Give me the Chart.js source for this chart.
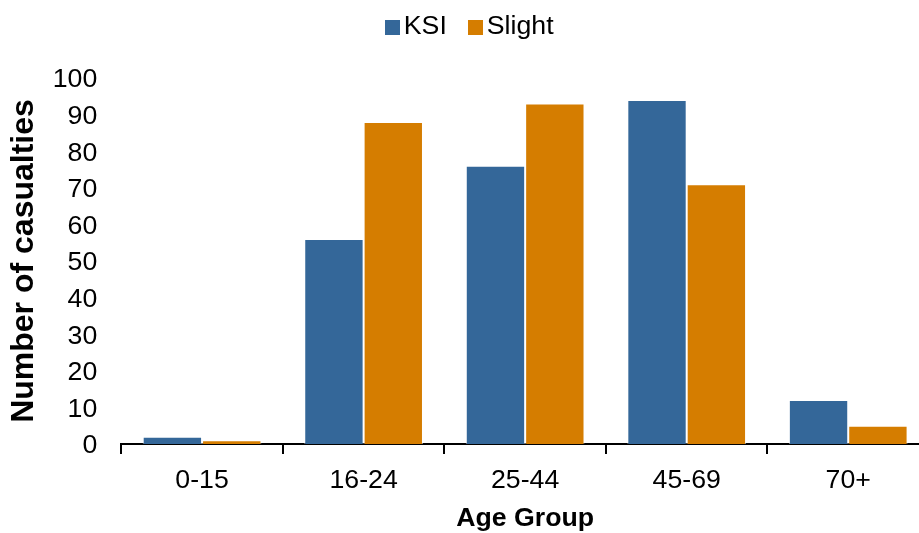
<!DOCTYPE html>
<html>
<head>
<meta charset="utf-8">
<script src="https://cdn.jsdelivr.net/npm/chart.js@4/dist/chart.umd.min.js"></script>
<style>
  html, body { margin: 0; padding: 0; background: #fff; overflow: hidden; }
  #wrap { width: 919px; height: 533px; overflow: hidden; }
  canvas { display: block; }
</style>
</head>
<body>
<div id="wrap"><canvas id="chart" width="930" height="533"></canvas></div>
<script>
// Casualties by age group, split by severity
const ageGroups = ['0-15', '16-24', '25-44', '45-69', '70+'];
const ksiCasualties = [2, 56, 76, 94, 12];
const slightCasualties = [1, 88, 93, 71, 5];
const yTickValues = [0, 10, 20, 30, 40, 50, 60, 70, 80, 90, 100];

const BLUE = '#346799';
const ORANGE = '#d57d00';
const FONT = 'Liberation Sans, Arial, sans-serif';
const BASE_SIZE = 26.7;

// Square legend marker drawn on a small canvas, offset so the label sits close to it
function legendSwatch(color) {
  const c = document.createElement('canvas');
  c.width = 34; c.height = 15;
  const g = c.getContext('2d');
  g.fillStyle = color;
  g.fillRect(19, 0, 15, 15);
  return c;
}
const swatches = [legendSwatch(BLUE), legendSwatch(ORANGE)];

// Extra room below the legend so the plot starts lower
const legendSpacer = {
  id: 'legendSpacer',
  beforeInit(chart) {
    const fit = chart.legend.fit;
    chart.legend.fit = function () {
      fit.call(this);
      this.height += 27.65;
    };
  }
};

new Chart(document.getElementById('chart'), {
  type: 'bar',
  data: {
    labels: ageGroups,
    datasets: [
      {
        label: 'KSI',
        data: ksiCasualties,
        backgroundColor: BLUE,
        borderColor: 'rgba(255,255,255,0.55)',
        borderWidth: 1,
        categoryPercentage: 0.735,
        barPercentage: 1.0
      },
      {
        label: 'Slight',
        data: slightCasualties,
        backgroundColor: ORANGE,
        borderColor: 'rgba(255,255,255,0.55)',
        borderWidth: 1,
        categoryPercentage: 0.735,
        barPercentage: 1.0
      }
    ]
  },
  options: {
    responsive: false,
    animation: false,
    layout: { padding: { top: 2, right: 1, bottom: 0, left: 0 } },
    plugins: {
      tooltip: { enabled: false },
      legend: {
        position: 'top',
        labels: {
          usePointStyle: true,
          pointStyleWidth: 15,
          boxHeight: 15,
          padding: 11.65,
          color: '#000',
          font: { family: FONT, size: BASE_SIZE },
          generateLabels(chart) {
            const items = Chart.defaults.plugins.legend.labels.generateLabels(chart);
            items.forEach(it => { it.pointStyle = swatches[it.datasetIndex]; });
            return items;
          }
        }
      }
    },
    scales: {
      x: {
        grid: {
          display: true,
          drawOnChartArea: false,
          drawTicks: true,
          tickLength: 10,
          color: '#000',
          lineWidth: 2,
          offset: true
        },
        border: { display: true, color: '#000', width: 2 },
        ticks: {
          color: '#000',
          padding: 11,
          font: { family: FONT, size: BASE_SIZE },
          maxRotation: 0
        },
        title: {
          display: true,
          text: 'Age Group',
          color: '#000',
          padding: { top: 0, bottom: -2 },
          font: { family: FONT, size: BASE_SIZE, weight: 'bold' }
        },
        afterFit(scale) { scale.height = 89; }
      },
      y: {
        min: 0,
        max: 100,
        grid: { display: false, drawTicks: false },
        border: { display: false },
        afterBuildTicks(scale) { scale.ticks = yTickValues.map(v => ({ value: v })); },
        ticks: {
          color: '#000',
          padding: 24,
          labelOffset: 2,
          font: { family: FONT, size: BASE_SIZE }
        },
        title: {
          display: true,
          text: 'Number of casualties',
          color: '#000',
          padding: { top: 5.3, bottom: 0 },
          font: { family: FONT, size: 32, weight: 'bold' }
        },
        afterFit(scale) { scale.width = 121.3; }
      }
    }
  },
  plugins: [legendSpacer]
});
</script>
</body>
</html>
